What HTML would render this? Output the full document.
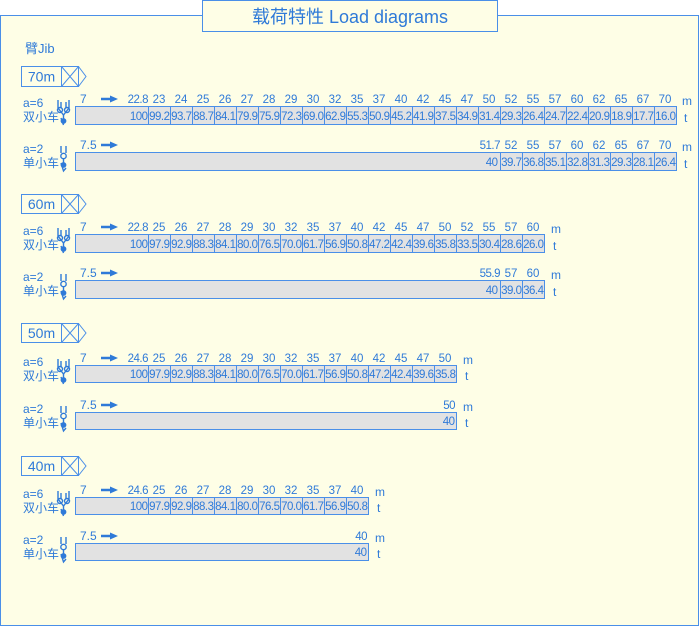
<!DOCTYPE html>
<html><head><meta charset="utf-8"><style>
html,body{margin:0;padding:0;background:#fff;}
svg{display:block;font-family:"Liberation Sans","Noto Sans CJK SC",sans-serif;}
.t{fill:#2f7ad8;font-size:12px;}
.v{fill:#2f7ad8;font-size:11.5px;text-anchor:end;letter-spacing:-0.5px;}
.c{fill:#2f7ad8;font-size:11.5px;text-anchor:middle;}
.l{stroke:#4a8fe8;stroke-width:1;}
.bar{fill:#e2e2e2;stroke:#4a8fe8;stroke-width:1;}
</style></head><body>
<svg width="700" height="627" viewBox="0 0 700 627" xmlns="http://www.w3.org/2000/svg">
<defs>
<g id="arr"><line x1="101" y1="0" x2="111" y2="0" stroke="#2f7ad8" stroke-width="2.5"/><polygon points="110,-3.5 118,0 110,3.5" fill="#2f7ad8"/></g>
<g id="ic2" fill="none" stroke="#2f7ad8" stroke-width="1.4"><line x1="58" y1="-6" x2="58" y2="2"/><line x1="69" y1="-6" x2="69" y2="2"/><line x1="61" y1="-4" x2="61" y2="2"/><line x1="66" y1="-4" x2="66" y2="2"/><circle cx="60" cy="4" r="2.5"/><circle cx="67" cy="4" r="2.5"/><path d="M58 2 L63.5 9 L69 2"/><line x1="63.5" y1="9" x2="63.5" y2="13"/><circle cx="63.5" cy="15" r="2.2" fill="#2f7ad8"/><path d="M61 12 L63.5 19"/></g>
<g id="ic1" fill="none" stroke="#2f7ad8" stroke-width="1.4"><line x1="61" y1="-6" x2="61" y2="1"/><line x1="66" y1="-6" x2="66" y2="1"/><circle cx="63.5" cy="4" r="2.7"/><line x1="63.5" y1="6" x2="63.5" y2="11"/><circle cx="63.5" cy="13" r="2.2" fill="#2f7ad8"/><path d="M61 11 L63.5 19 L66 16"/></g>
</defs>
<rect x="0.5" y="15.5" width="698" height="610" fill="#fefee6" stroke="#4a8fe8"/>
<rect x="202.5" y="0.5" width="295" height="31" fill="#fefee6" stroke="#4a8fe8"/>
<text x="350" y="23" text-anchor="middle" style="fill:#2f7ad8;font-size:18px;">载荷特性 Load diagrams</text>
<text x="25" y="53" class="t" style="font-size:13px">臂Jib</text>

<g transform="translate(0,66)">
<rect x="21.5" y="0.5" width="40" height="20" fill="#fefee6" stroke="#4a8fe8"/><text x="41.5" y="15.5" class="c" style="font-size:14px">70m</text>
<rect x="61.5" y="0.5" width="17" height="20" fill="none" stroke="#4a8fe8"/><path d="M61.5 0.5 L78.5 20.5 M78.5 0.5 L61.5 20.5 M78.5 0.5 L86 10.5 L78.5 20.5" fill="none" stroke="#4a8fe8"/></g>
<g transform="translate(0,194)">
<rect x="21.5" y="0.5" width="40" height="19" fill="#fefee6" stroke="#4a8fe8"/><text x="41.5" y="15" class="c" style="font-size:14px">60m</text>
<rect x="61.5" y="0.5" width="17" height="19" fill="none" stroke="#4a8fe8"/><path d="M61.5 0.5 L78.5 19.5 M78.5 0.5 L61.5 19.5 M78.5 0.5 L86 10 L78.5 19.5" fill="none" stroke="#4a8fe8"/></g>
<g transform="translate(0,323)">
<rect x="21.5" y="0.5" width="40" height="19" fill="#fefee6" stroke="#4a8fe8"/><text x="41.5" y="15" class="c" style="font-size:14px">50m</text>
<rect x="61.5" y="0.5" width="17" height="19" fill="none" stroke="#4a8fe8"/><path d="M61.5 0.5 L78.5 19.5 M78.5 0.5 L61.5 19.5 M78.5 0.5 L86 10 L78.5 19.5" fill="none" stroke="#4a8fe8"/></g>
<g transform="translate(0,456)">
<rect x="21.5" y="0.5" width="40" height="19" fill="#fefee6" stroke="#4a8fe8"/><text x="41.5" y="15" class="c" style="font-size:14px">40m</text>
<rect x="61.5" y="0.5" width="17" height="19" fill="none" stroke="#4a8fe8"/><path d="M61.5 0.5 L78.5 19.5 M78.5 0.5 L61.5 19.5 M78.5 0.5 L86 10 L78.5 19.5" fill="none" stroke="#4a8fe8"/></g>

<g transform="translate(0,106)">
<text x="23" y="1" class="t">a=6</text><text x="23" y="15" class="t">双小车</text><use href="#ic2"/>
<text x="80" y="-3" class="t">7</text><use href="#arr" y="-7"/>
<rect x="75.5" y="0.5" width="601" height="18" class="bar"/>
<path class="l" d="M148.5 0V19M170.5 0V19M192.5 0V19M214.5 0V19M236.5 0V19M258.5 0V19M280.5 0V19M302.5 0V19M324.5 0V19M346.5 0V19M368.5 0V19M390.5 0V19M412.5 0V19M434.5 0V19M456.5 0V19M478.5 0V19M500.5 0V19M522.5 0V19M544.5 0V19M566.5 0V19M588.5 0V19M610.5 0V19M632.5 0V19M654.5 0V19"/>
<text x="148" y="-3" class="v">22.8</text>
<text y="-3" class="c"><tspan x="159">23</tspan><tspan x="181">24</tspan><tspan x="203">25</tspan><tspan x="225">26</tspan><tspan x="247">27</tspan><tspan x="269">28</tspan><tspan x="291">29</tspan><tspan x="313">30</tspan><tspan x="335">32</tspan><tspan x="357">35</tspan><tspan x="379">37</tspan><tspan x="401">40</tspan><tspan x="423">42</tspan><tspan x="445">45</tspan><tspan x="467">47</tspan><tspan x="489">50</tspan><tspan x="511">52</tspan><tspan x="533">55</tspan><tspan x="555">57</tspan><tspan x="577">60</tspan><tspan x="599">62</tspan><tspan x="621">65</tspan><tspan x="643">67</tspan><tspan x="665">70</tspan></text>
<text y="14" class="v"><tspan x="147.5">100</tspan><tspan x="169.5">99.2</tspan><tspan x="191.5">93.7</tspan><tspan x="213.5">88.7</tspan><tspan x="235.5">84.1</tspan><tspan x="257.5">79.9</tspan><tspan x="279.5">75.9</tspan><tspan x="301.5">72.3</tspan><tspan x="323.5">69.0</tspan><tspan x="345.5">62.9</tspan><tspan x="367.5">55.3</tspan><tspan x="389.5">50.9</tspan><tspan x="411.5">45.2</tspan><tspan x="433.5">41.9</tspan><tspan x="455.5">37.5</tspan><tspan x="477.5">34.9</tspan><tspan x="499.5">31.4</tspan><tspan x="521.5">29.3</tspan><tspan x="543.5">26.4</tspan><tspan x="565.5">24.7</tspan><tspan x="587.5">22.4</tspan><tspan x="609.5">20.9</tspan><tspan x="631.5">18.9</tspan><tspan x="653.5">17.7</tspan><tspan x="675.5">16.0</tspan></text>
<text x="682" y="-1" class="t">m</text><text x="684" y="16" class="t">t</text>
</g>

<g transform="translate(0,152)">
<text x="23" y="1" class="t">a=2</text><text x="23" y="15" class="t">单小车</text><use href="#ic1"/>
<text x="80" y="-3" class="t">7.5</text><use href="#arr" y="-7"/>
<rect x="75.5" y="0.5" width="601" height="18" class="bar"/>
<path class="l" d="M500.5 0V19M522.5 0V19M544.5 0V19M566.5 0V19M588.5 0V19M610.5 0V19M632.5 0V19M654.5 0V19"/>
<text x="500" y="-3" class="v">51.7</text>
<text y="-3" class="c"><tspan x="511">52</tspan><tspan x="533">55</tspan><tspan x="555">57</tspan><tspan x="577">60</tspan><tspan x="599">62</tspan><tspan x="621">65</tspan><tspan x="643">67</tspan><tspan x="665">70</tspan></text>
<text y="14" class="v"><tspan x="497.5">40</tspan><tspan x="521.5">39.7</tspan><tspan x="543.5">36.8</tspan><tspan x="565.5">35.1</tspan><tspan x="587.5">32.8</tspan><tspan x="609.5">31.3</tspan><tspan x="631.5">29.3</tspan><tspan x="653.5">28.1</tspan><tspan x="675.5">26.4</tspan></text>
<text x="682" y="-1" class="t">m</text><text x="684" y="16" class="t">t</text>
</g>

<g transform="translate(0,234)">
<text x="23" y="1" class="t">a=6</text><text x="23" y="15" class="t">双小车</text><use href="#ic2"/>
<text x="80" y="-3" class="t">7</text><use href="#arr" y="-7"/>
<rect x="75.5" y="0.5" width="469" height="18" class="bar"/>
<path class="l" d="M148.5 0V19M170.5 0V19M192.5 0V19M214.5 0V19M236.5 0V19M258.5 0V19M280.5 0V19M302.5 0V19M324.5 0V19M346.5 0V19M368.5 0V19M390.5 0V19M412.5 0V19M434.5 0V19M456.5 0V19M478.5 0V19M500.5 0V19M522.5 0V19"/>
<text x="148" y="-3" class="v">22.8</text>
<text y="-3" class="c"><tspan x="159">25</tspan><tspan x="181">26</tspan><tspan x="203">27</tspan><tspan x="225">28</tspan><tspan x="247">29</tspan><tspan x="269">30</tspan><tspan x="291">32</tspan><tspan x="313">35</tspan><tspan x="335">37</tspan><tspan x="357">40</tspan><tspan x="379">42</tspan><tspan x="401">45</tspan><tspan x="423">47</tspan><tspan x="445">50</tspan><tspan x="467">52</tspan><tspan x="489">55</tspan><tspan x="511">57</tspan><tspan x="533">60</tspan></text>
<text y="14" class="v"><tspan x="147.5">100</tspan><tspan x="169.5">97.9</tspan><tspan x="191.5">92.9</tspan><tspan x="213.5">88.3</tspan><tspan x="235.5">84.1</tspan><tspan x="257.5">80.0</tspan><tspan x="279.5">76.5</tspan><tspan x="301.5">70.0</tspan><tspan x="323.5">61.7</tspan><tspan x="345.5">56.9</tspan><tspan x="367.5">50.8</tspan><tspan x="389.5">47.2</tspan><tspan x="411.5">42.4</tspan><tspan x="433.5">39.6</tspan><tspan x="455.5">35.8</tspan><tspan x="477.5">33.5</tspan><tspan x="499.5">30.4</tspan><tspan x="521.5">28.6</tspan><tspan x="543.5">26.0</tspan></text>
<text x="551" y="-1" class="t">m</text><text x="553" y="16" class="t">t</text>
</g>

<g transform="translate(0,280)">
<text x="23" y="1" class="t">a=2</text><text x="23" y="15" class="t">单小车</text><use href="#ic1"/>
<text x="80" y="-3" class="t">7.5</text><use href="#arr" y="-7"/>
<rect x="75.5" y="0.5" width="469" height="18" class="bar"/>
<path class="l" d="M500.5 0V19M522.5 0V19"/>
<text x="500" y="-3" class="v">55.9</text>
<text y="-3" class="c"><tspan x="511">57</tspan><tspan x="533">60</tspan></text>
<text y="14" class="v"><tspan x="497.5">40</tspan><tspan x="521.5">39.0</tspan><tspan x="543.5">36.4</tspan></text>
<text x="551" y="-1" class="t">m</text><text x="553" y="16" class="t">t</text>
</g>

<g transform="translate(0,365)">
<text x="23" y="1" class="t">a=6</text><text x="23" y="15" class="t">双小车</text><use href="#ic2"/>
<text x="80" y="-3" class="t">7</text><use href="#arr" y="-7"/>
<rect x="75.5" y="0.5" width="381" height="17" class="bar"/>
<path class="l" d="M148.5 0V18M170.5 0V18M192.5 0V18M214.5 0V18M236.5 0V18M258.5 0V18M280.5 0V18M302.5 0V18M324.5 0V18M346.5 0V18M368.5 0V18M390.5 0V18M412.5 0V18M434.5 0V18"/>
<text x="148" y="-3" class="v">24.6</text>
<text y="-3" class="c"><tspan x="159">25</tspan><tspan x="181">26</tspan><tspan x="203">27</tspan><tspan x="225">28</tspan><tspan x="247">29</tspan><tspan x="269">30</tspan><tspan x="291">32</tspan><tspan x="313">35</tspan><tspan x="335">37</tspan><tspan x="357">40</tspan><tspan x="379">42</tspan><tspan x="401">45</tspan><tspan x="423">47</tspan><tspan x="445">50</tspan></text>
<text y="13" class="v"><tspan x="147.5">100</tspan><tspan x="169.5">97.9</tspan><tspan x="191.5">92.9</tspan><tspan x="213.5">88.3</tspan><tspan x="235.5">84.1</tspan><tspan x="257.5">80.0</tspan><tspan x="279.5">76.5</tspan><tspan x="301.5">70.0</tspan><tspan x="323.5">61.7</tspan><tspan x="345.5">56.9</tspan><tspan x="367.5">50.8</tspan><tspan x="389.5">47.2</tspan><tspan x="411.5">42.4</tspan><tspan x="433.5">39.6</tspan><tspan x="455.5">35.8</tspan></text>
<text x="463" y="-1" class="t">m</text><text x="465" y="15" class="t">t</text>
</g>

<g transform="translate(0,412)">
<text x="23" y="1" class="t">a=2</text><text x="23" y="15" class="t">单小车</text><use href="#ic1"/>
<text x="80" y="-3" class="t">7.5</text><use href="#arr" y="-7"/>
<rect x="75.5" y="0.5" width="381" height="17" class="bar"/>
<text x="455" y="-3" class="v">50</text>
<text x="454.5" y="13" class="v">40</text>
<text x="463" y="-1" class="t">m</text><text x="465" y="15" class="t">t</text>
</g>

<g transform="translate(0,497)">
<text x="23" y="1" class="t">a=6</text><text x="23" y="15" class="t">双小车</text><use href="#ic2"/>
<text x="80" y="-3" class="t">7</text><use href="#arr" y="-7"/>
<rect x="75.5" y="0.5" width="293" height="17" class="bar"/>
<path class="l" d="M148.5 0V18M170.5 0V18M192.5 0V18M214.5 0V18M236.5 0V18M258.5 0V18M280.5 0V18M302.5 0V18M324.5 0V18M346.5 0V18"/>
<text x="148" y="-3" class="v">24.6</text>
<text y="-3" class="c"><tspan x="159">25</tspan><tspan x="181">26</tspan><tspan x="203">27</tspan><tspan x="225">28</tspan><tspan x="247">29</tspan><tspan x="269">30</tspan><tspan x="291">32</tspan><tspan x="313">35</tspan><tspan x="335">37</tspan><tspan x="357">40</tspan></text>
<text y="13" class="v"><tspan x="147.5">100</tspan><tspan x="169.5">97.9</tspan><tspan x="191.5">92.9</tspan><tspan x="213.5">88.3</tspan><tspan x="235.5">84.1</tspan><tspan x="257.5">80.0</tspan><tspan x="279.5">76.5</tspan><tspan x="301.5">70.0</tspan><tspan x="323.5">61.7</tspan><tspan x="345.5">56.9</tspan><tspan x="367.5">50.8</tspan></text>
<text x="375" y="-1" class="t">m</text><text x="377" y="15" class="t">t</text>
</g>

<g transform="translate(0,543)">
<text x="23" y="1" class="t">a=2</text><text x="23" y="15" class="t">单小车</text><use href="#ic1"/>
<text x="80" y="-3" class="t">7.5</text><use href="#arr" y="-7"/>
<rect x="75.5" y="0.5" width="293" height="17" class="bar"/>
<text x="367" y="-3" class="v">40</text>
<text x="366.5" y="13" class="v">40</text>
<text x="375" y="-1" class="t">m</text><text x="377" y="15" class="t">t</text>
</g>
</svg>
</body></html>
